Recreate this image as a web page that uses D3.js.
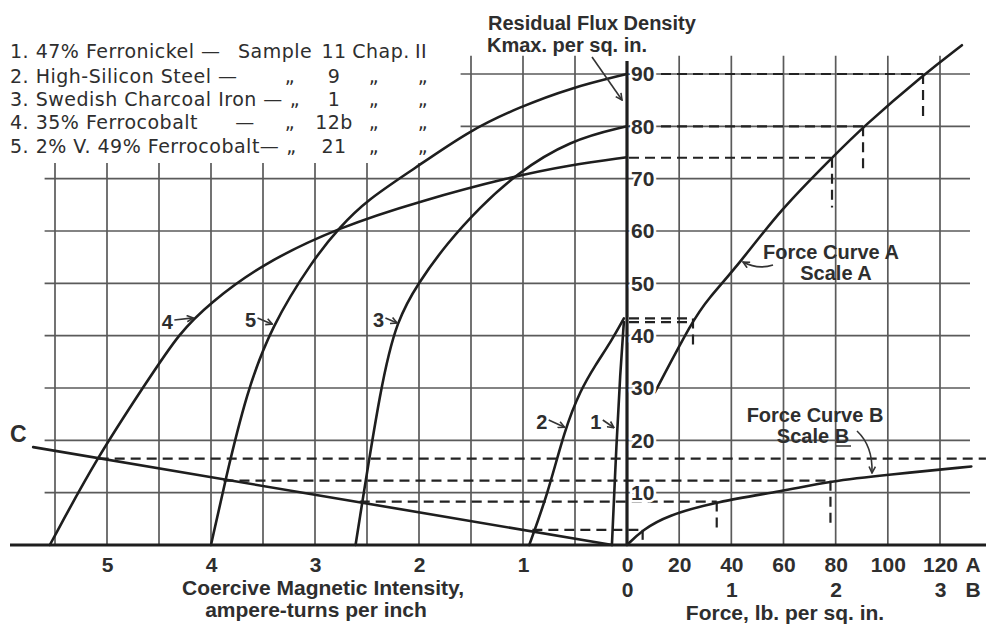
<!DOCTYPE html>
<html><head><meta charset="utf-8">
<script src="https://cdn.jsdelivr.net/npm/d3@7/dist/d3.min.js"></script>
<style>
body{margin:0;background:#fff}
svg{display:block;background:#fff}
text{fill:#2e2e2e}
.ax text,.lbl{font-family:"Liberation Sans",Arial,sans-serif;font-weight:bold;fill:#2e2e2e}
.leg{font-family:"DejaVu Sans",sans-serif;font-size:19px;letter-spacing:0.5px;fill:#2e2e2e}
</style></head><body>
<svg id="c" width="986" height="625"></svg>
<script>
// ---------- data ----------
const coerciveTicks=[5,4,3,2,1,0];
const fluxTicks=[10,20,30,40,50,60,70,80,90];
const scaleATicks=[20,40,60,80,100,120];
const scaleBTicks=[0,1,2,3];

const curveNames=["1","2","3","4","5"];
const curve1H=[0.145,0.10,0.065,0.03];
const curve1B=[0,20,33,42.6];
const curve2H=[0.94,0.76,0.60,0.45,0.30,0.15,0.03];
const curve2B=[0,9.9,22,29.5,34.5,39,43.3];
const curve3H=[2.61,2.36,2.21,2.01,1.73,1.41,1.08,0.55,0];
const curve3B=[0,31.5,43,50,57.7,64.6,70.7,77.4,80];
const curve4H=[5.55,5.10,4.62,4.30,4.01,3.53,2.76,1.99,1.125,0.55,0];
const curve4B=[0,16.6,31.1,40.7,46.2,53.5,60.8,65.7,70.3,72.6,74.1];
const curve5H=[4.00,3.86,3.66,3.42,3.02,2.76,2.50,2.06,1.51,1.03,0.55,0];
const curve5B=[0,12.6,29,41.8,54.5,60.8,65.9,71.7,79.3,83.7,87.3,90];
const lineCH=[5.71,0.14];
const lineCB=[18.7,0];

const forceAF=[10.7,25.3,30.7,43.3,58.7,78.6,90.5,113.5,128.4];
const forceAB=[29.2,43.0,46.8,53.9,64.0,74.0,79.9,89.8,95.5];
const forceBF=[0,0.15,0.38,0.86,1.49,1.95,2.49,3.3];
const forceBB=[0,2.9,5.6,8.3,10.3,12.2,13.4,15.0];

// guide lines from the curves over to Force Curve A
const guideALevel=[90,80,74,43.3,42.6];
const guideAEnd=[113.5,90.5,78.6,25.3,25.3];
const guideADrop=[81.5,71.5,64.5,37.5,null];
// guide lines from line C intersections over to Force Curve B
const guideBLevel=[16.5,12.3,8.3,2.9];
const guideBStartH=[5.08,3.88,2.57,0.91];
const guideBEnd=[3.44,1.95,0.86,0.15];
const guideBDrop=[null,3.5,2.5,0];

const legendNames=["1. 47% Ferronickel —","2. High-Silicon Steel —","3. Swedish Charcoal Iron —","4. 35% Ferrocobalt","5. 2% V. 49% Ferrocobalt—"];
const legendGap=["","","","—",""];
const legendSample=["Sample","\u201E","\u201E","\u201E","\u201E"];
const legendNumber=["11","9","1","12b","21"];
const legendChap=["Chap.","\u201E","\u201E","\u201E","\u201E"];
const legendChapNo=["II","\u201E","\u201E","\u201E","\u201E"];

// ---------- scales ----------
const svg=d3.select("#c");
const xH=d3.scaleLinear().domain([0,6]).range([627,3]);
const yB=d3.scaleLinear().domain([0,90]).range([545,74]);
const xA=d3.scaleLinear().domain([0,120]).range([627,940]);
const xF=d3.scaleLinear().domain([0,3]).range([627,940]);
const zip=(a,b)=>a.map((v,i)=>[v,b[i]]);

const defs=svg.append("defs");
defs.append("marker").attr("id","ah").attr("viewBox","0 0 10 10").attr("refX",9).attr("refY",5)
  .attr("markerWidth",5).attr("markerHeight",5).attr("orient","auto")
  .append("path").attr("d","M1,1 L9,5 L1,9").attr("fill","none").attr("stroke","#333").attr("stroke-width",2);

// ---------- grid ----------
const grid=svg.append("g").attr("stroke","#5a5a5a").attr("stroke-width",1.7).attr("fill","none");
fluxTicks.forEach(b=>{
  const h0=b<=70?5.6:1.6;
  grid.append("line").attr("x1",xH(h0)).attr("x2",xH(0)).attr("y1",yB(b)).attr("y2",yB(b));
  grid.append("line").attr("x1",xA(0)).attr("x2",xA(131.5)).attr("y1",yB(b)).attr("y2",yB(b));
});
d3.range(0.5,5.51,0.5).forEach(h=>{
  const top=h<=1.5?93.5:73;
  grid.append("line").attr("x1",xH(h)).attr("x2",xH(h)).attr("y1",yB(0)).attr("y2",yB(top));
});
scaleATicks.forEach(f=>{
  grid.append("line").attr("x1",xA(f)).attr("x2",xA(f)).attr("y1",yB(0)).attr("y2",yB(93.5));
});

// ---------- dashed guides ----------
const dash=svg.append("g").attr("stroke","#222").attr("stroke-width",2.2).attr("stroke-dasharray","10,6").attr("fill","none");
guideALevel.forEach((b,i)=>{
  dash.append("line").attr("x1",xA(0)+2).attr("x2",xA(guideAEnd[i])).attr("y1",yB(b)).attr("y2",yB(b));
  if(guideADrop[i]!==null) dash.append("line").attr("x1",xA(guideAEnd[i])).attr("x2",xA(guideAEnd[i])).attr("y1",yB(b)).attr("y2",yB(guideADrop[i]));
});
guideBLevel.forEach((b,i)=>{
  dash.append("line").attr("x1",xH(guideBStartH[i])).attr("x2",xF(guideBEnd[i])).attr("y1",yB(b)).attr("y2",yB(b));
  if(guideBDrop[i]!==null) dash.append("line").attr("x1",xF(guideBEnd[i])).attr("x2",xF(guideBEnd[i])).attr("y1",yB(b)).attr("y2",yB(guideBDrop[i]));
});

// ---------- curves ----------
const smooth=d3.curveBasis;
const lineH=d3.line().x(d=>xH(d[0])).y(d=>yB(d[1])).curve(smooth);
const lineA=d3.line().x(d=>xA(d[0])).y(d=>yB(d[1])).curve(smooth);
const lineF=d3.line().x(d=>xF(d[0])).y(d=>yB(d[1])).curve(smooth);
const cg=svg.append("g").attr("stroke","#1e1e1e").attr("stroke-width",2.6).attr("fill","none").attr("stroke-linecap","round");
[[curve1H,curve1B],[curve2H,curve2B],[curve3H,curve3B],[curve4H,curve4B],[curve5H,curve5B],[lineCH,lineCB]]
  .forEach(([h,b])=>cg.append("path").attr("d",lineH(zip(h,b))));
cg.append("path").attr("d",lineA(zip(forceAF,forceAB)));
cg.append("path").attr("d",lineF(zip(forceBF,forceBB)));

// ---------- axes lines ----------
svg.append("line").attr("x1",10).attr("x2",986).attr("y1",yB(0)).attr("y2",yB(0)).attr("stroke","#1e1e1e").attr("stroke-width",3.2);
svg.append("line").attr("x1",xH(0)).attr("x2",xH(0)).attr("y1",yB(0)).attr("y2",yB(92.5)).attr("stroke","#1e1e1e").attr("stroke-width",3.2);

// ---------- tick labels via d3 axes ----------
function styleAxis(g){
  g.select(".domain").remove();
  g.selectAll("text").attr("font-size",21).attr("fill","#2e2e2e").attr("font-family",null);
}
svg.append("g").attr("class","ax").attr("transform",`translate(0,${yB(0)})`)
  .call(d3.axisBottom(xH).tickValues(coerciveTicks).tickSize(0).tickPadding(12).tickFormat(d3.format("d"))).call(styleAxis);
svg.append("g").attr("class","ax").attr("transform",`translate(0,${yB(0)})`)
  .call(d3.axisBottom(xA).tickValues(scaleATicks).tickSize(0).tickPadding(12).tickFormat(d3.format("d"))).call(styleAxis);
svg.append("g").attr("class","ax").attr("transform",`translate(0,${yB(0)})`)
  .call(d3.axisBottom(xF).tickValues(scaleBTicks).tickSize(0).tickPadding(37).tickFormat(d3.format("d"))).call(styleAxis);
svg.append("g").attr("class","ax").attr("transform",`translate(${xH(0)+1},0)`)
  .call(d3.axisRight(yB).tickValues(fluxTicks).tickSize(0).tickPadding(3).tickFormat(d3.format("d"))).call(styleAxis)
  .selectAll("text").attr("stroke","#fff").attr("stroke-width",5).attr("paint-order","stroke");

function lbl(x,y,t,size,anchor){
  return svg.append("text").attr("class","lbl").attr("x",x).attr("y",y).attr("font-size",size).attr("text-anchor",anchor||"start").text(t);
}
lbl(973,572,"A",21,"middle");
lbl(973,597,"B",21,"middle");
lbl(323,595,"Coercive Magnetic Intensity,",21,"middle");
lbl(316,617,"ampere-turns per inch",21,"middle");
lbl(785,620,"Force, lb. per sq. in.",21,"middle");
lbl(488,30,"Residual Flux Density",20);
lbl(487,52,"Kmax. per sq. in.",20);
lbl(10,442,"C",23);
lbl(831,259,"Force Curve A",20,"middle");
lbl(836,280,"Scale A",20,"middle");
lbl(815,422,"Force Curve B",20,"middle");
lbl(813,443,"Scale B",20,"middle");
svg.append("line").attr("x1",836).attr("x2",851).attr("y1",446).attr("y2",446).attr("stroke","#333").attr("stroke-width",1.5);

// annotation arrows
const arr=svg.append("g").attr("stroke","#333").attr("stroke-width",1.6).attr("fill","none").attr("marker-end","url(#ah)");
arr.append("path").attr("d","M592,57 L622,100");
arr.append("path").attr("d","M773,265 Q758,270 743,262");
arr.append("path").attr("d","M857,431 Q873,446 872,473");

// curve number labels with arrows (anchored in data space)
const curveLabelH=[0.30,0.82,2.39,4.42,3.62];
const curveLabelB=[23.5,23.5,43,42.6,43];
const curveTipH=[0.125,0.60,2.21,4.17,3.41];
const curveTipB=[22.4,22.5,42.4,43.4,42.2];
curveNames.forEach((n,i)=>{
  const x=xH(curveLabelH[i]), y=yB(curveLabelB[i]);
  lbl(x,y+7,n,20,"middle");
  arr.append("path").attr("d",`M${x+7},${y-2} L${xH(curveTipH[i])},${yB(curveTipB[i])}`);
});

// ---------- legend ----------
const rowY=[58,83,106,129,153];
legendNames.forEach((n,i)=>{
  const t=svg.append("text").attr("class","leg").attr("x",10).attr("y",rowY[i]).text(n);
  const end=10+t.node().getComputedTextLength();
  if(legendGap[i]) svg.append("text").attr("class","leg").attr("x",245).attr("y",rowY[i]).attr("text-anchor","middle").text(legendGap[i]);
  if(i===0) svg.append("text").attr("class","leg").attr("x",238).attr("y",rowY[i]).text(legendSample[i]);
  else svg.append("text").attr("class","leg").attr("x",Math.max(290,end+12)).attr("y",rowY[i]).attr("text-anchor","middle").text(legendSample[i]);
  svg.append("text").attr("class","leg").attr("x",334).attr("y",rowY[i]).attr("text-anchor","middle").text(legendNumber[i]);
  svg.append("text").attr("class","leg").attr("x",i===0?381:374).attr("y",rowY[i]).attr("text-anchor","middle").text(legendChap[i]);
  svg.append("text").attr("class","leg").attr("x",i===0?421:423).attr("y",rowY[i]).attr("text-anchor","middle").text(legendChapNo[i]);
});
</script>
</body></html>
